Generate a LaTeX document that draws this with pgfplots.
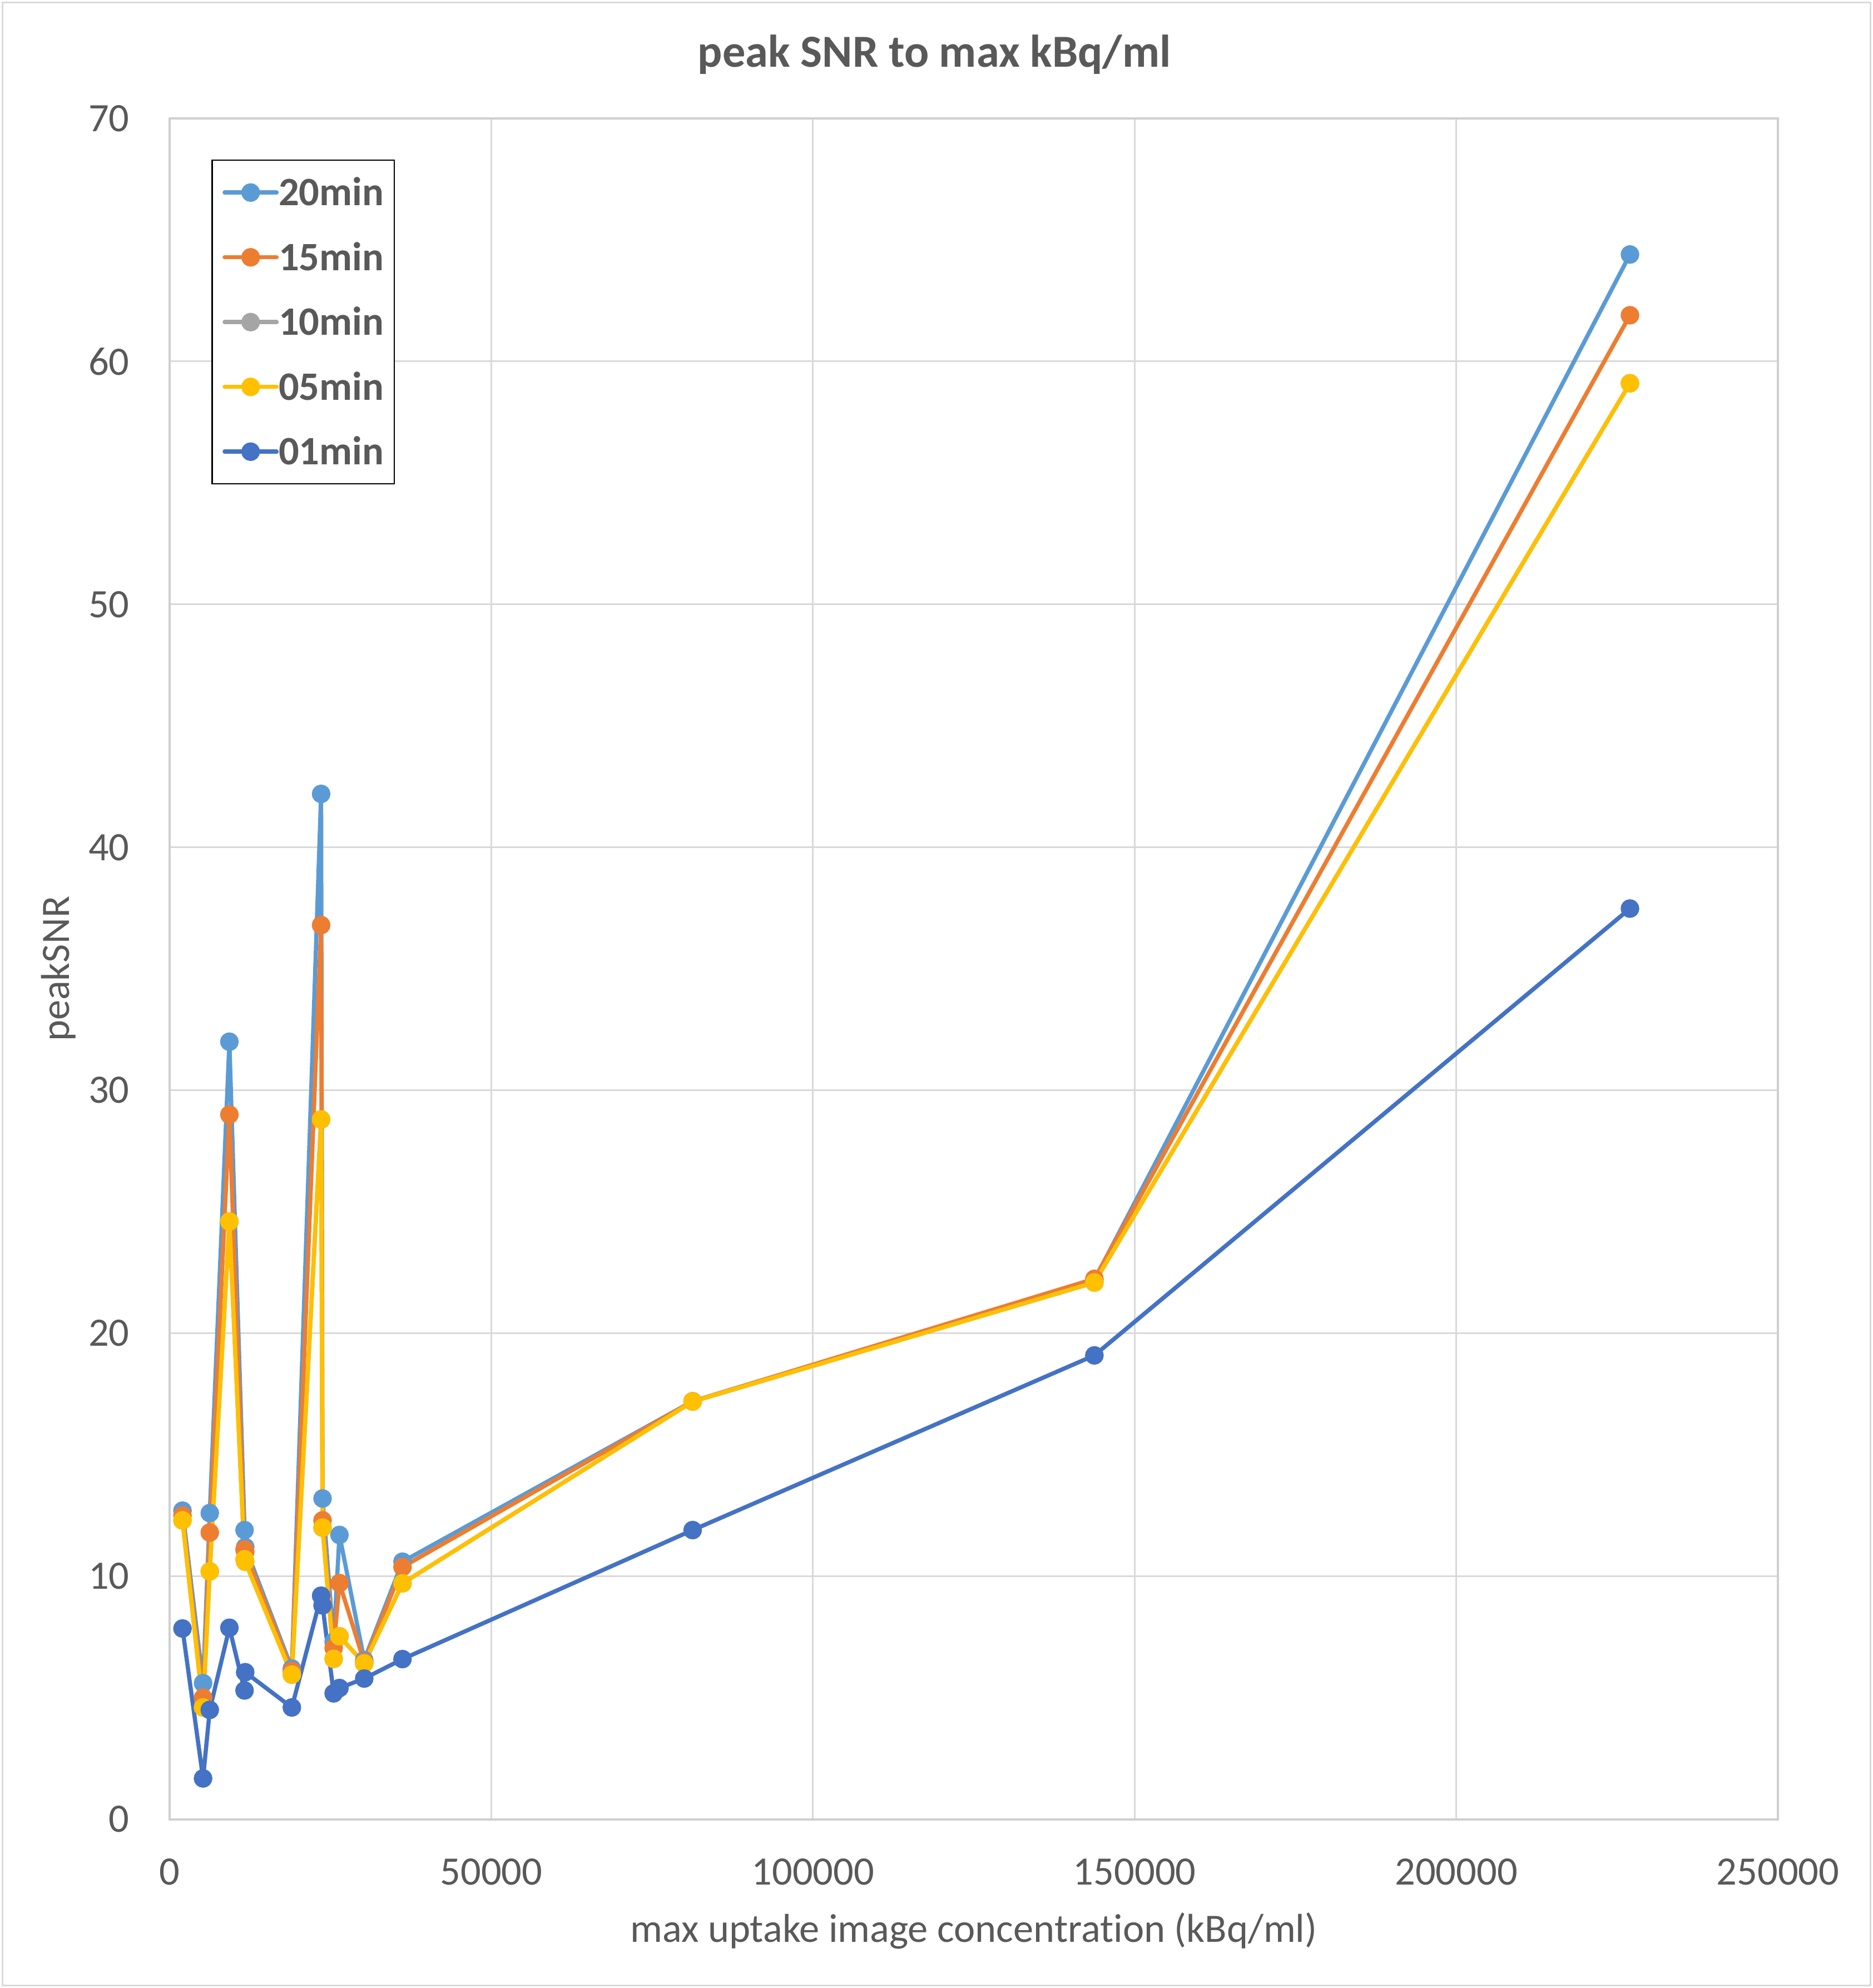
\documentclass[border=0pt]{standalone}
\usepackage{fontspec}
\setmainfont{Carlito}[RawFeature={-liga;-clig;-dlig}]
\usepackage{pgfplots}
\usepackage{pgfplotstable}
\pgfplotsset{compat=1.18}
\definecolor{cA}{HTML}{5B9BD5}
\definecolor{cB}{HTML}{ED7D31}
\definecolor{cC}{HTML}{A5A5A5}
\definecolor{cD}{HTML}{FFC000}
\definecolor{cE}{HTML}{4472C4}
\definecolor{txt}{HTML}{595959}
\definecolor{gridc}{HTML}{D9D9D9}
\definecolor{axc}{HTML}{CFCFCF}

\pgfplotstableread{
x      s20   s15   s10   s05   s01
2000   12.7  12.5  12.3  12.3  7.85
5200   5.6   5.0   4.6   4.6   1.68
6240   12.6  11.8  10.2  10.2  4.5
9290   32.0  29.0  24.6  24.6  7.88
11650  11.9  11.1  10.7  10.7  5.3
11750  11.2  11.0  10.6  10.6  6.05
19000  6.2   6.1   5.95  5.95  4.6
23550  42.2  36.8  28.8  28.8  9.2
23770  13.2  12.3  12.0  12.0  8.8
25500  7.3   7.05  6.6   6.6   5.18
26400  11.7  9.72  7.53  7.53  5.4
30250  6.55  6.47  6.41  6.41  5.79
36200  10.6  10.38 9.71  9.71  6.59
81300  17.2  17.2  17.19 17.19 11.9
143750 22.2  22.24 22.09 22.09 19.09
227000 64.4  61.9  59.1  59.1  37.48
}\datatable

\begin{document}
\begin{tikzpicture}
\useasboundingbox (0,0) rectangle (673.6pt,715pt);
\draw[gridc, line width=0.7pt] (0.9pt,0.9pt) rectangle (672.7pt,714.1pt);
\begin{axis}[
  at={(61pt,60.7pt)}, anchor=south west,
  scale only axis, width=578.4pt, height=611.7pt,
  xmin=0, xmax=250000, ymin=0, ymax=70,
  scaled x ticks=false, scaled y ticks=false,
  xtick={0,50000,100000,150000,200000,250000},
  xticklabels={0,50000,100000,150000,200000,250000},
  ytick={0,10,20,30,40,50,60,70},
  /pgf/number format/assume math mode=true,
  grid=major,
  major grid style={gridc, line width=0.6pt},
  axis line style={axc, line width=0.8pt},
  major tick length=0pt,
  tick label style={font=\fontsize{14.5}{17}\selectfont, text=txt, inner sep=0pt},
  xticklabel style={anchor=base, yshift=-23.6pt},
  yticklabel style={anchor=east, xshift=-14.3pt},
  title={peak SNR to max kBq/ml},
  title style={at={(axis description cs:0.4755,1.0205)}, anchor=base, font=\fontsize{16.5}{20}\selectfont\bfseries, text=txt, inner sep=0pt},
  xlabel={max uptake image concentration (kBq/ml)},
  xlabel style={at={(axis description cs:0.5,-0.0724)}, anchor=base, font=\fontsize{14.5}{17}\selectfont, text=txt, inner sep=0pt},
  ylabel={peakSNR},
  ylabel style={at={(axis description cs:-0.0625,0.5)}, anchor=base, font=\fontsize{14.5}{17}\selectfont, text=txt, inner sep=0pt},
  legend style={at={(axis description cs:0.0261,0.9758)}, anchor=north west,
    draw=black, line width=0.5pt, fill=white,
    font=\fontsize{14.5}{17}\selectfont\bfseries, text=txt,
    inner xsep=3.7pt, inner ysep=4.6pt, row sep=9.3pt,
    nodes={inner sep=0pt, text height=11.7pt, text depth=2.3pt},
    /tikz/every even column/.append style={column sep=1.7pt}},
  legend cell align=left,
  legend image code/.code={\draw[mark repeat=2,mark phase=2] plot coordinates {(0pt,0pt) (9.35pt,0pt) (18.7pt,0pt)};},
  every axis plot/.append style={line width=1.5pt, line join=round, line cap=round, mark=*, mark size=2.6pt, mark options={solid}},
]
\addplot[color=cA] table[x=x, y=s20] {\datatable};
\addlegendentry{20min}
\addplot[color=cB] table[x=x, y=s15] {\datatable};
\addlegendentry{15min}
\addplot[color=cC] table[x=x, y=s10] {\datatable};
\addlegendentry{10min}
\addplot[color=cD] table[x=x, y=s05] {\datatable};
\addlegendentry{05min}
\addplot[color=cE] table[x=x, y=s01] {\datatable};
\addlegendentry{01min}
\end{axis}
\end{tikzpicture}
\end{document}
